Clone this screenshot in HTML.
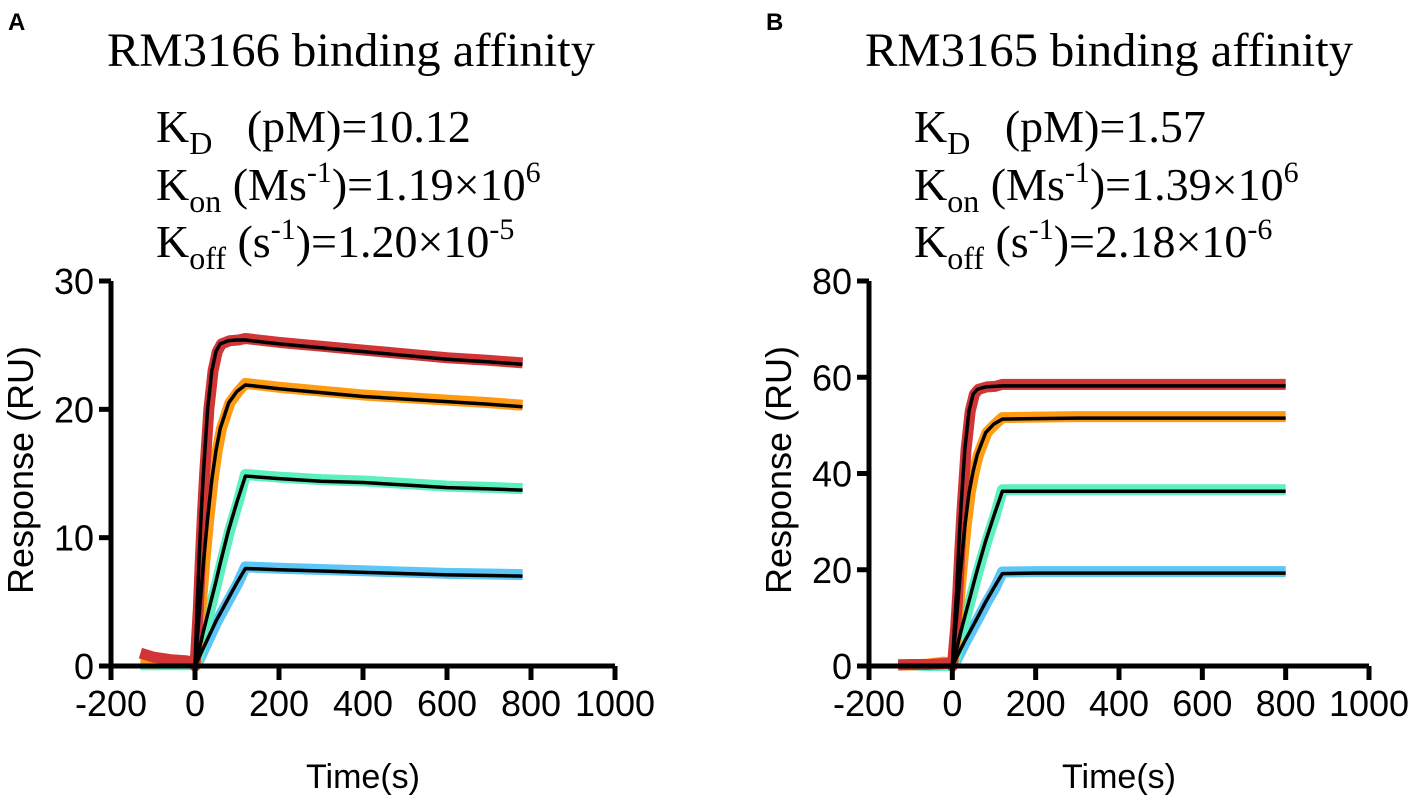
<!DOCTYPE html>
<html><head><meta charset="utf-8"><style>
body{margin:0;background:#fff}
svg{display:block}
.ser{font-family:"Liberation Serif",serif;fill:#000}
.san{font-family:"Liberation Sans",sans-serif;fill:#000}
</style></head><body>
<svg id="fig" width="1417" height="808" viewBox="0 0 1417 808" xmlns="http://www.w3.org/2000/svg">
<text class="san" x="8" y="30" font-size="24" font-weight="bold">A</text>
<text class="san" x="766" y="30" font-size="24" font-weight="bold">B</text>
<g id="pA">
<text class="ser" x="107" y="66" font-size="48" textLength="488" lengthAdjust="spacingAndGlyphs">RM3166 binding affinity</text>
<text class="ser" x="156" y="142" font-size="46" xml:space="preserve">K<tspan font-size="32" dy="12">D</tspan><tspan dy="-12">   (pM)=10.12</tspan></text>
<text class="ser" x="156" y="200" font-size="46">K<tspan font-size="32" dy="12">on</tspan><tspan dy="-12"> (Ms</tspan><tspan font-size="30" dy="-18">-1</tspan><tspan dy="18">)=1.19×10</tspan><tspan font-size="30" dy="-18">6</tspan></text>
<text class="ser" x="156" y="257" font-size="46">K<tspan font-size="32" dy="12">off</tspan><tspan dy="-12"> (s</tspan><tspan font-size="30" dy="-18">-1</tspan><tspan dy="18">)=1.20×10</tspan><tspan font-size="30" dy="-18">-5</tspan></text>
</g>
<g id="pB">
<text class="ser" x="865" y="66" font-size="48" textLength="488" lengthAdjust="spacingAndGlyphs">RM3165 binding affinity</text>
<text class="ser" x="914" y="142" font-size="46" xml:space="preserve">K<tspan font-size="32" dy="12">D</tspan><tspan dy="-12">   (pM)=1.57</tspan></text>
<text class="ser" x="914" y="200" font-size="46">K<tspan font-size="32" dy="12">on</tspan><tspan dy="-12"> (Ms</tspan><tspan font-size="30" dy="-18">-1</tspan><tspan dy="18">)=1.39×10</tspan><tspan font-size="30" dy="-18">6</tspan></text>
<text class="ser" x="914" y="257" font-size="46">K<tspan font-size="32" dy="12">off</tspan><tspan dy="-12"> (s</tspan><tspan font-size="30" dy="-18">-1</tspan><tspan dy="18">)=2.18×10</tspan><tspan font-size="30" dy="-18">-6</tspan></text>
</g>
</svg>
<script>
const timesA=[0,5,10,15,20,30,40,50,60,80,100,120,200,300,400,500,600,700,780];
const fitRedA=[0,4.5,8.5,12,15,20,23,24.5,25.1,25.35,25.4,25.4,25.1,24.8,24.5,24.2,23.9,23.7,23.5];
const fitOrangeA=[0,2,4,6,8,11.5,14.5,16.8,18.5,20.5,21.4,21.9,21.6,21.3,21,20.8,20.6,20.4,20.2];
const fitGreenA=[0,0.65,1.3,2,2.7,4,5.3,6.6,8,10.6,12.8,14.8,14.6,14.4,14.3,14.1,13.9,13.8,13.7];
const fitBlueA=[0,0.35,0.7,1.05,1.4,2.1,2.8,3.5,4.1,5.3,6.5,7.6,7.5,7.4,7.3,7.2,7.1,7.05,7.0];
const baseTimes=[-130,-100,-60,-20,-2];
const baseRedA=[1.0,0.7,0.5,0.4,0.3];
const baseOrangeA=[0.3,0.2,0.3,0.4,0.2];
const baseGreenA=[0.1,0.1,0.1,0.1,0.1];
const timesB=[0,5,10,15,20,30,40,50,60,80,100,120,200,300,400,500,600,700,800];
const fitRedB=[0,8,15,24,32,45,53,56.5,57.5,58,58.1,58.2,58.2,58.2,58.2,58.2,58.2,58.2,58.2];
const fitOrangeB=[0,5,10,15,20,29,36,40.5,44,48.5,50.3,51.3,51.4,51.5,51.5,51.5,51.5,51.5,51.5];
const fitGreenB=[0,1.7,3.5,5.2,7,10.3,13.5,16.8,20,26,31.3,36.3,36.3,36.3,36.3,36.3,36.3,36.3,36.3];
const fitBlueB=[0,0.9,1.8,2.6,3.5,5.2,6.8,8.4,10,13.3,16.3,19.2,19.3,19.3,19.3,19.3,19.3,19.3,19.3];
const baseRedB=[0.2,0.3,0.3,0.5,0.6];
const baseOrangeB=[0.2,0.2,0.4,0.8,0.5];
const baseGreenB=[0.4,0.2,0.1,0.1,0.1];
const xTicks=[-200,0,200,400,600,800,1000];
const yTicksA=[0,10,20,30];
const yTicksB=[0,20,40,60,80];
const colors={red:'#d13536',orange:'#ff9b12',green:'#5cf0c0',blue:'#5cc6f7'};
const NS='http://www.w3.org/2000/svg';
const svg=document.getElementById('fig');
function mk(tag,attrs,parent){const e=document.createElementNS(NS,tag);for(const k in attrs)e.setAttribute(k,attrs[k]);(parent||svg).appendChild(e);return e;}
function panel(id,x0px,xMaxPx,yMax,yTicks,times,fits,bases){
  const g=document.getElementById(id);
  const xs=t=>x0px+(t+200)/1200*(xMaxPx-x0px);
  const ys=v=>666-v/yMax*385;
  const names=['red','orange','green','blue'];
  for(let i=fits.length-1;i>=0;i--){
    const f=fits[i];
    let pts=[];
    if(bases[i]) bases[i].forEach((v,j)=>pts.push(xs(baseTimes[j])+','+ys(v)));
    times.forEach((t,j)=>pts.push(xs(t+(j>0&&j<11?3:0))+','+ys(f[j]+(j>10?0.004*yMax:0))));
    const p=mk('polyline',{points:pts.join(' '),fill:'none',stroke:colors[names[i]],'stroke-width':11,'stroke-linejoin':'round'},g);
    
    
  }
  fits.forEach((f,i)=>{
    const pts=times.map((t,j)=>xs(t)+','+ys(f[j])).join(' ');
    const p=mk('polyline',{points:pts,fill:'none',stroke:'#000','stroke-width':3.5,'stroke-linejoin':'round'},g);
    
    
  });
  const ax=mk('path',{d:`M${x0px},${ys(yMax)}V666H${xMaxPx}`,fill:'none',stroke:'#000','stroke-width':5},g);
  
  
  xTicks.forEach(t=>{
    const tk=mk('line',{x1:xs(t),x2:xs(t),y1:666,y2:680,stroke:'#000','stroke-width':5},g);
    
    
    const tl=mk('text',{x:xs(t),y:716,'text-anchor':'middle','font-size':36,class:'san'},g);
    tl.textContent=t;
    
    
  });
  yTicks.forEach(v=>{
    const tk=mk('line',{x1:x0px-12,x2:x0px,y1:ys(v),y2:ys(v),stroke:'#000','stroke-width':5},g);
    
    
    const tl=mk('text',{x:x0px-17,y:ys(v)+13,'text-anchor':'end','font-size':36,class:'san'},g);
    tl.textContent=v;
    
    
  });
  const yt=mk('text',{x:0,y:0,'text-anchor':'middle','font-size':36,class:'san',transform:`translate(${x0px-78},470) rotate(-90)`},g);
  yt.textContent='Response (RU)';
  
  
  const xt=mk('text',{x:xs(400),y:788,'text-anchor':'middle','font-size':34,class:'san'},g);
  xt.textContent='Time(s)';
  
  
}
panel('pA',111,615,30,yTicksA,timesA,[fitRedA,fitOrangeA,fitGreenA,fitBlueA],[baseRedA,baseOrangeA,baseGreenA,null]);
panel('pB',869,1369,80,yTicksB,timesB,[fitRedB,fitOrangeB,fitGreenB,fitBlueB],[baseRedB,baseOrangeB,baseGreenB,null]);
</script>
</body></html>
